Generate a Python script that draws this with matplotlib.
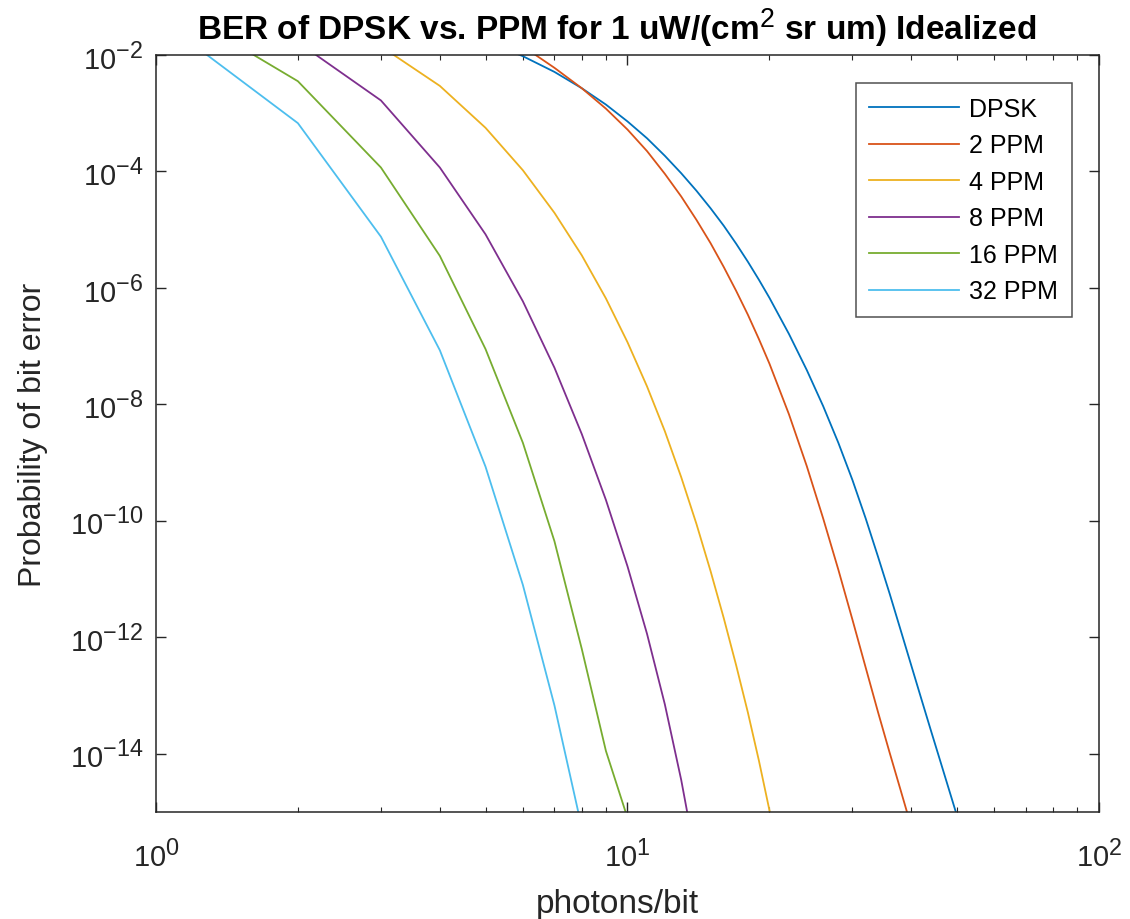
import numpy as np
import matplotlib
matplotlib.use("Agg")
import matplotlib.pyplot as plt
import matplotlib._mathtext as mathtext_internals
from matplotlib.ticker import LogLocator, NullLocator, NullFormatter, FixedLocator, LogFormatterSciNotation

plt.rcParams['font.family'] = ['Liberation Sans', 'DejaVu Sans']
plt.rcParams['mathtext.fontset'] = 'custom'
plt.rcParams['mathtext.rm'] = 'Liberation Sans'
plt.rcParams['mathtext.it'] = 'Liberation Sans:italic'
plt.rcParams['mathtext.bf'] = 'Liberation Sans:bold'
# MATLAB draws exponents a bit larger than mathtext does
mathtext_internals.SHRINK_FACTOR = 0.8

# photons/bit and BER
n_dpsk = [5, 6, 7, 8, 9, 10, 11, 12, 13, 14, 15, 16, 17, 18, 19, 20,
          22, 24, 26, 28, 30, 32, 34, 36, 38, 40, 42, 44, 46, 48, 50, 52]
ber_dpsk = [1.74e-2, 9.55e-3, 5.13e-3, 2.69e-3, 1.41e-3, 7.24e-4, 3.72e-4, 1.86e-4,
            9.33e-5, 4.68e-5, 2.34e-5, 1.17e-5, 5.75e-6, 2.82e-6, 1.38e-6, 6.76e-7,
            1.62e-7, 3.89e-8, 9.33e-9, 2.19e-9, 5.01e-10, 1.10e-10, 2.40e-11, 5.50e-12,
            1.29e-12, 3.24e-13, 8.71e-14, 2.51e-14, 7.76e-15, 2.51e-15, 8.51e-16, 3.02e-16]

n_2ppm = [6, 7, 8, 9, 10, 11, 12, 13, 14, 15, 16, 17, 18, 19, 20,
          22, 24, 26, 28, 30, 32, 34, 36, 38, 40]
ber_2ppm = [1.41e-2, 6.03e-3, 2.69e-3, 1.20e-3, 5.25e-4, 2.24e-4, 9.12e-5, 3.72e-5,
            1.48e-5, 5.89e-6, 2.29e-6, 8.91e-7, 3.47e-7, 1.32e-7, 5.01e-8,
            6.76e-9, 8.71e-10, 1.10e-10, 1.45e-11, 2.00e-12, 3.02e-13, 5.13e-14,
            1.02e-14, 2.29e-15, 5.50e-16]

n_4ppm = [3, 4, 5, 6, 7, 8, 9, 10, 11, 12, 13, 14, 15, 16, 17, 18, 19, 20, 21]
ber_4ppm = [1.41e-2, 2.95e-3, 5.62e-4, 1.05e-4, 1.95e-5, 3.63e-6, 6.61e-7, 1.17e-7,
            2.04e-8, 3.47e-9, 5.62e-10, 8.91e-11, 1.38e-11, 2.14e-12, 3.31e-13,
            5.13e-14, 7.59e-15, 1.07e-15, 1.41e-16]

n_8ppm = [2, 3, 4, 5, 6, 7, 8, 9, 10, 11, 12, 13, 14]
ber_8ppm = [1.66e-2, 1.66e-3, 1.17e-4, 8.32e-6, 5.89e-7, 4.27e-8, 3.09e-9, 2.29e-10,
            1.66e-11, 1.15e-12, 7.08e-14, 3.55e-15, 1.41e-16]

n_16ppm = [1, 2, 3, 4, 5, 6, 7, 8, 9, 10]
ber_16ppm = [1.0e-1, 3.55e-3, 1.17e-4, 3.55e-6, 8.91e-8, 2.19e-9, 4.47e-11,
             6.31e-13, 1.12e-14, 7.94e-16]

n_32ppm = [1, 2, 3, 4, 5, 6, 7, 8]
ber_32ppm = [4.57e-2, 6.76e-4, 7.59e-6, 8.51e-8, 8.51e-10, 7.94e-12, 6.76e-14, 5.37e-16]

labels = ['DPSK', '2 PPM', '4 PPM', '8 PPM', '16 PPM', '32 PPM']
colors = ['#0072BD', '#D95319', '#EDB120', '#7E2F8E', '#77AC30', '#4DBEEE']
series = [(n_dpsk, ber_dpsk), (n_2ppm, ber_2ppm), (n_4ppm, ber_4ppm),
          (n_8ppm, ber_8ppm), (n_16ppm, ber_16ppm), (n_32ppm, ber_32ppm)]

fig = plt.figure(figsize=(11.3, 9.2), dpi=100)
ax = fig.add_axes([0.138, 0.1163, 0.8346, 0.8228])

for (x, y), lab, c in zip(series, labels, colors):
    ax.loglog(x, y, color=c, lw=1.3, label=lab)

ax.set_xlim(1, 100)
ax.set_ylim(1e-15, 1e-2)

gray = '#262626'
ax.xaxis.set_major_locator(FixedLocator([1, 10, 100]))
ax.xaxis.set_major_formatter(LogFormatterSciNotation())
ax.xaxis.set_minor_locator(LogLocator(base=10, subs=np.arange(2, 10), numticks=20))
ax.xaxis.set_minor_formatter(NullFormatter())
ax.yaxis.set_major_locator(FixedLocator([1e-14, 1e-12, 1e-10, 1e-8, 1e-6, 1e-4, 1e-2]))
ax.yaxis.set_major_formatter(LogFormatterSciNotation())
ax.yaxis.set_minor_locator(NullLocator())

ax.tick_params(which='both', direction='in', top=True, right=True, colors=gray,
               labelsize=21, labelcolor=gray)
ax.tick_params(which='major', length=7, width=1.0)
ax.tick_params(axis='y', which='major', pad=9)
ax.tick_params(axis='x', which='major', pad=19)
ax.tick_params(which='minor', length=3.5, width=0.8)
for s in ax.spines.values():
    s.set_color(gray)
    s.set_linewidth(1.1)

ax.set_title('BER of DPSK vs. PPM for 1 uW/(cm$^2$ sr um) Idealized',
             fontsize=24, fontweight='bold', color='black', pad=11, x=0.489)
ax.set_xlabel('photons/bit', fontsize=24, color=gray, labelpad=12, x=0.489)
ax.set_ylabel('Probability of bit error', fontsize=23, color=gray, labelpad=16)

leg = ax.legend(loc='upper right', bbox_to_anchor=(0.9714, 0.963), borderaxespad=0,
                fontsize=18, frameon=True, fancybox=False, handlelength=3.6,
                handletextpad=0.4, labelspacing=0.5, borderpad=0.55)
leg.get_frame().set_edgecolor(gray)
leg.get_frame().set_linewidth(1.1)

fig.savefig('out.png', dpi=100)
plt.close(fig)
